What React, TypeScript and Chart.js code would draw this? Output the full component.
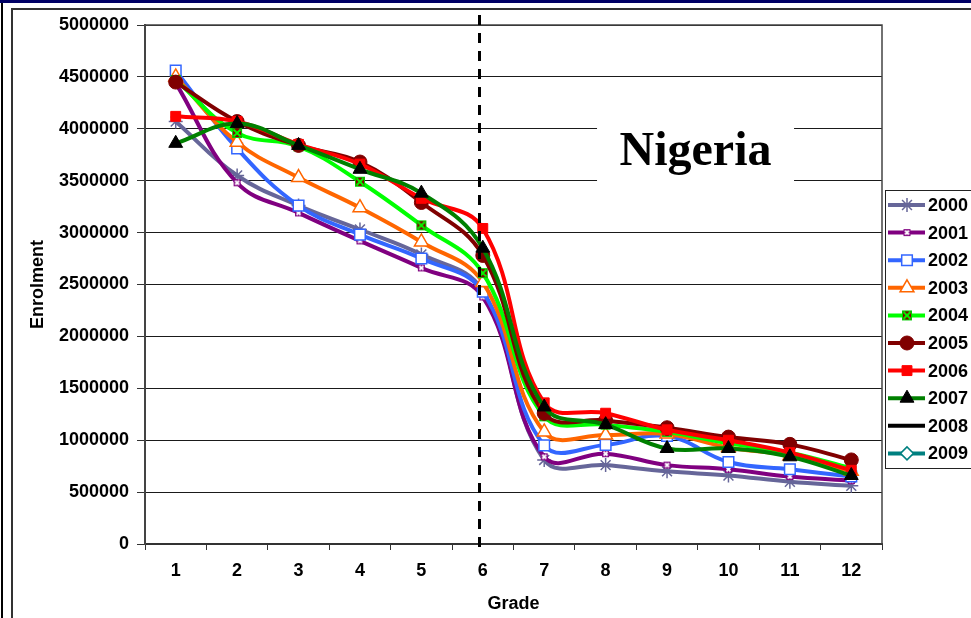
import React, { useEffect, useRef } from 'react';
import { Chart, registerables } from 'chart.js';
import { drawPoint } from 'chart.js/helpers';

Chart.register(...registerables);

// ---------- data ----------
const grades = ['1', '2', '3', '4', '5', '6', '7', '8', '9', '10', '11', '12'];
const years = ['2000', '2001', '2002', '2003', '2004', '2005', '2006', '2007', '2008', '2009'];

const e2000 = [4070000, 3550000, 3260000, 3030000, 2790000, 2440000, 810000, 760000, 700000, 660000, 600000, 560000];
const e2001 = [4440000, 3480000, 3190000, 2920000, 2660000, 2380000, 840000, 870000, 760000, 720000, 650000, 610000];
const e2002 = [4560000, 3810000, 3260000, 2980000, 2750000, 2430000, 950000, 955000, 1040000, 790000, 720000, 650000];
const e2003 = [4500000, 3870000, 3530000, 3240000, 2910000, 2520000, 1080000, 1050000, 1060000, 930000, 850000, 700000];
const e2004 = [4470000, 3960000, 3830000, 3490000, 3070000, 2610000, 1230000, 1150000, 1080000, 970000, 880000, 730000];
const e2005 = [4450000, 4070000, 3840000, 3680000, 3290000, 2780000, 1260000, 1190000, 1120000, 1030000, 960000, 810000];
const e2006 = [4120000, 4070000, 3850000, 3660000, 3330000, 3040000, 1360000, 1260000, 1100000, 1000000, 880000, 710000];
const e2007 = [3860000, 4050000, 3840000, 3610000, 3380000, 2850000, 1320000, 1150000, 920000, 920000, 840000, 660000];
const e2008: (number | null)[] = [];
const e2009: (number | null)[] = [];

const yTicksMin = 0;
const yTicksMax = 5000000;
const yTickStep = 500000;

// grade at which the vertical dashed divider is drawn (primary / secondary)
const dividerGrade = 5.94;
const chartTitle = 'Nigeria';
const xTitle = 'Grade';
const yTitle = 'Enrolment';

const FONT = "'Liberation Sans', Arial, sans-serif";

function makeBoxCross(fill: string, cross: string, border: string, size: number): HTMLCanvasElement {
  const c = document.createElement('canvas');
  c.width = size;
  c.height = size;
  const g = c.getContext('2d')!;
  g.fillStyle = fill;
  g.fillRect(1, 1, size - 2, size - 2);
  g.strokeStyle = border;
  g.lineWidth = 1;
  g.strokeRect(1.5, 1.5, size - 3, size - 3);
  g.strokeStyle = cross;
  g.lineWidth = 1.8;
  g.beginPath();
  g.moveTo(2.5, 2.5);
  g.lineTo(size - 2.5, size - 2.5);
  g.moveTo(size - 2.5, 2.5);
  g.lineTo(2.5, size - 2.5);
  g.stroke();
  return c;
}

export default function App() {
  const ref = useRef<HTMLCanvasElement | null>(null);

  useEffect(() => {
    if (!ref.current) return;
    const marker2004 = makeBoxCross('#800000', '#00FF00', '#00CC00', 12);
    const marker2001 = makeBoxCross('#800080', '#FFFFFF', '#800080', 9);

    const seriesData = [e2000, e2001, e2002, e2003, e2004, e2005, e2006, e2007, e2008, e2009];
    const styles: any[] = [
      { color: '#666699', pointStyle: 'star', radius: 7, bg: '#666699', bw: 1.5 },
      { color: '#800080', pointStyle: marker2001, radius: 4.5, bg: '#800080', bw: 0 },
      { color: '#3366FF', pointStyle: 'rect', radius: 7.5, bg: '#FFFFFF', bw: 1.5 },
      { color: '#FF6600', pointStyle: 'triangle', radius: 8, bg: '#FFFFFF', bw: 1.5 },
      { color: '#00FF00', pointStyle: marker2004, radius: 6, bg: '#00FF00', bw: 0 },
      { color: '#800000', pointStyle: 'circle', radius: 7, bg: '#800000', bw: 1 },
      { color: '#FF0000', pointStyle: 'rect', radius: 7, bg: '#FF0000', bw: 1 },
      { color: '#008000', pointStyle: 'triangle', radius: 8, bg: '#000000', bw: 1, pointBorder: '#000000' },
      { color: '#000000', pointStyle: false, radius: 0, bg: '#000000', bw: 0 },
      { color: '#008080', pointStyle: 'rectRot', radius: 6.5, bg: '#FFFFFF', bw: 1.5 },
    ];

    const datasets = years.map((y, i) => ({
      label: y,
      data: seriesData[i],
      borderColor: styles[i].color,
      backgroundColor: styles[i].bg,
      borderWidth: 4,
      tension: 0.4,
      pointStyle: styles[i].pointStyle,
      pointRadius: styles[i].radius,
      pointBackgroundColor: styles[i].bg,
      pointBorderColor: styles[i].pointBorder || styles[i].color,
      pointBorderWidth: styles[i].bw,
      order: years.length - i,
    }));

    const decorPlugin = {
      id: 'decor',
      beforeDatasetsDraw(chart: any) {
        const { ctx, chartArea: a } = chart;
        // title box (covers gridlines)
        const cx = a.left + (a.right - a.left) * 0.747;
        const bw = 197;
        const top = a.top + 80;
        ctx.save();
        ctx.fillStyle = '#FFFFFF';
        ctx.fillRect(cx - bw / 2, top, bw, 81);
        ctx.fillStyle = '#000000';
        ctx.font = "bold 48px 'Liberation Serif', 'Times New Roman', serif";
        ctx.textAlign = 'center';
        ctx.textBaseline = 'alphabetic';
        ctx.fillText(chartTitle, cx, top + 60);
        // plot border
        ctx.strokeStyle = '#444444';
        ctx.lineWidth = 1.5;
        ctx.beginPath();
        ctx.moveTo(a.left, a.top);
        ctx.lineTo(a.right, a.top);
        ctx.lineTo(a.right, a.bottom);
        ctx.stroke();
        ctx.restore();
      },
      afterDatasetsDraw(chart: any) {
        const { ctx, chartArea: a, scales } = chart;
        const x = Math.round(scales.x.getPixelForValue(dividerGrade - 1)) + 0.5;
        ctx.save();
        ctx.strokeStyle = '#000000';
        ctx.lineWidth = 3;
        ctx.setLineDash([10, 8]);
        ctx.beginPath();
        ctx.moveTo(x, a.top - 10);
        ctx.lineTo(x, a.bottom + 4);
        ctx.stroke();
        ctx.restore();
      },
      afterDraw(chart: any) {
        const { ctx, chartArea: a } = chart;
        ctx.save();
        // axis titles
        ctx.fillStyle = '#000000';
        ctx.font = `bold 18px ${FONT}`;
        ctx.textAlign = 'center';
        ctx.textBaseline = 'middle';
        ctx.fillText(xTitle, (a.left + a.right) / 2, 604);
        ctx.translate(38, (a.top + a.bottom) / 2);
        ctx.rotate(-Math.PI / 2);
        ctx.fillText(yTitle, 0, 0);
        ctx.restore();

        // legend
        ctx.save();
        const lx = 885;
        const ly = 190;
        ctx.fillStyle = '#FFFFFF';
        ctx.fillRect(lx, ly, 200, 278);
        ctx.strokeStyle = '#222222';
        ctx.lineWidth = 1;
        ctx.strokeRect(lx + 0.5, ly + 0.5, 200, 278);
        chart.data.datasets.forEach((ds: any, i: number) => {
          const y = ly + 15 + i * 27.6;
          ctx.strokeStyle = ds.borderColor;
          ctx.lineWidth = 4;
          ctx.setLineDash([]);
          ctx.beginPath();
          ctx.moveTo(lx + 3, y);
          ctx.lineTo(lx + 40, y);
          ctx.stroke();
          if (ds.pointStyle) {
            ctx.fillStyle = ds.pointBackgroundColor;
            ctx.strokeStyle = ds.pointBorderColor;
            ctx.lineWidth = ds.pointBorderWidth;
            drawPoint(ctx, { pointStyle: ds.pointStyle, rotation: 0, radius: ds.pointRadius, borderWidth: ds.pointBorderWidth } as any, lx + 22, y);
          }
          ctx.fillStyle = '#000000';
          ctx.font = `bold 18px ${FONT}`;
          ctx.textAlign = 'left';
          ctx.textBaseline = 'middle';
          ctx.fillText(ds.label, lx + 43, y + 1);
        });
        ctx.restore();
      },
    };

    const chart = new Chart(ref.current, {
      type: 'line',
      data: { labels: grades, datasets },
      options: {
        responsive: false,
        devicePixelRatio: 1,
        animation: false,
        events: [],
        layout: { padding: { left: 0, top: 25, right: 89, bottom: 0 } },
        plugins: { legend: { display: false }, tooltip: { enabled: false }, title: { display: false } },
        scales: {
          x: {
            type: 'category',
            offset: true,
            grid: { offset: true, drawOnChartArea: false, tickLength: 6, color: '#333333', tickColor: '#333333', tickWidth: 1 },
            border: { color: '#333333', width: 2 },
            ticks: { color: '#000000', font: { family: FONT, size: 18, weight: 'bold' }, padding: 10, maxRotation: 0, autoSkip: false },
            afterFit: (s: any) => { s.height = 74; },
          },
          y: {
            min: yTicksMin,
            max: yTicksMax,
            ticks: {
              stepSize: yTickStep,
              color: '#000000',
              font: { family: FONT, size: 18, weight: 'bold' },
              padding: 8,
              callback: (v: any) => String(v),
            },
            grid: { color: '#1a1a1a', lineWidth: 1, tickLength: 8, tickColor: '#333333' },
            border: { color: '#444444', width: 2 },
            afterFit: (s: any) => { s.width = 145; },
          },
        },
      },
      plugins: [decorPlugin],
    } as any);

    return () => chart.destroy();
  }, []);

  return (
    <div style={{ position: 'fixed', left: 0, top: 0, width: 971, height: 618, overflow: 'hidden', background: '#FFFFFF' }}>
      <div style={{ position: 'absolute', left: 0, top: 0, width: 971, height: 3, background: '#000066' }} />
      <div style={{ position: 'absolute', left: 1, top: 3, width: 2, height: 615, background: '#000000' }} />
      <div style={{ position: 'absolute', left: 11, top: 8, width: 1000, height: 700, borderTop: '2px solid #333333', borderLeft: '2px solid #333333' }} />
      <canvas ref={ref} width={971} height={618} style={{ position: 'absolute', left: 0, top: 0 }} />
    </div>
  );
}
